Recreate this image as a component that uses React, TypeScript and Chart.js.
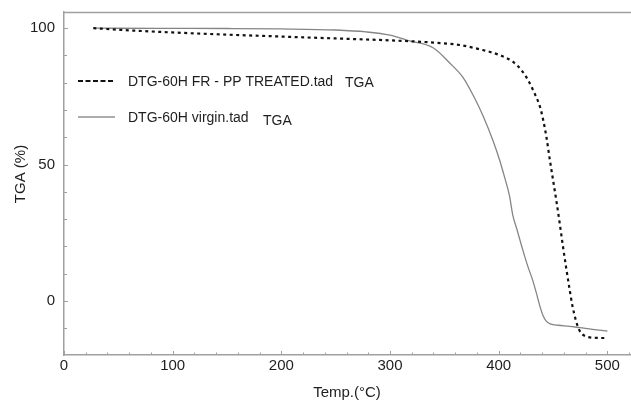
import React, { useEffect, useRef } from "react";
import { Chart, registerables } from "chart.js";

Chart.register(...registerables);

// FR-PP treated (dotted)
const treatedTemp = [27, 50, 100, 150, 200, 250, 300, 340, 364, 383, 401, 413, 421, 427, 433, 438, 441, 444, 447, 450, 453, 456, 459, 462, 465, 468, 471, 474, 477, 482, 490, 500];
const treatedTGA = [100, 99.4, 98.4, 97.6, 96.9, 96.2, 95.5, 94.7, 93.8, 92.2, 90.1, 87.7, 84.6, 81, 76.1, 71.2, 66.3, 60, 52, 44.5, 37, 29, 20.5, 12.5, 5, -2, -7, -10.5, -12.2, -13.2, -13.5, -13.6];

// virgin (solid)
const virginTemp = [27, 50, 100, 150, 200, 250, 278, 300, 318, 340, 355, 367, 377, 386, 395, 401, 405, 410, 413, 417, 422, 427, 431, 435, 438, 441, 444, 448, 455, 465, 475, 485, 495, 500];
const virginTGA = [100, 99.95, 99.9, 99.85, 99.7, 99.3, 98.6, 97.4, 95.3, 92.7, 87.2, 82, 75, 67.5, 58.5, 51.5, 46, 38.5, 31.5, 26, 19, 12.5, 8, 2.5, -2, -5.5, -7.5, -8.5, -8.9, -9.3, -9.8, -10.3, -10.8, -11];

const xTicks = [0, 100, 200, 300, 400, 500];
const xMinorTicks = [20, 40, 60, 80, 120, 140, 160, 180, 220, 240, 260, 280, 320, 340, 360, 380, 420, 440, 460, 480, 520];
const yTicks = [0, 50, 100];
const yMinorTicks = [-10, 10, 20, 30, 40, 60, 70, 80, 90];

const legendLabels = ["DTG-60H FR - PP TREATED.tad", "DTG-60H virgin.tad"];
const legendSuffix = "TGA";
const xTitle = "Temp.(°C)";
const yTitle = "TGA (%)";

const FONT = "'Liberation Sans', Arial, Helvetica, sans-serif";
const AXIS_COLOR = "#a0a0a0";
const TEXT_COLOR = "#1e1e1e";

const decorPlugin = {
  id: "decor",
  afterDraw(chart: any) {
    const { ctx, chartArea } = chart;
    const xs = chart.scales.x;
    const ys = chart.scales.y;
    ctx.save();
    // top frame line
    ctx.strokeStyle = AXIS_COLOR;
    ctx.lineWidth = 1.5;
    ctx.beginPath();
    ctx.moveTo(chartArea.left, chartArea.top + 0.5);
    ctx.lineTo(chartArea.right, chartArea.top + 0.5);
    ctx.stroke();
    // inner ticks
    ctx.lineWidth = 1;
    ctx.beginPath();
    xTicks.forEach((v) => {
      const px = Math.round(xs.getPixelForValue(v)) + 0.5;
      ctx.moveTo(px, chartArea.bottom);
      ctx.lineTo(px, chartArea.bottom - 4);
    });
    xMinorTicks.forEach((v) => {
      const px = Math.round(xs.getPixelForValue(v)) + 0.5;
      ctx.moveTo(px, chartArea.bottom);
      ctx.lineTo(px, chartArea.bottom - 2.5);
    });
    yTicks.forEach((v) => {
      const py = Math.round(ys.getPixelForValue(v)) + 0.5;
      ctx.moveTo(chartArea.left, py);
      ctx.lineTo(chartArea.left + 4, py);
    });
    yMinorTicks.forEach((v) => {
      const py = Math.round(ys.getPixelForValue(v)) + 0.5;
      ctx.moveTo(chartArea.left, py);
      ctx.lineTo(chartArea.left + 3, py);
    });
    ctx.stroke();

    // legend
    const lx = chartArea.left + 14;
    ctx.strokeStyle = "#111111";
    ctx.lineWidth = 2;
    ctx.setLineDash([5, 2.5]);
    ctx.beginPath();
    ctx.moveTo(lx, 81);
    ctx.lineTo(lx + 36, 81);
    ctx.stroke();
    ctx.setLineDash([]);
    ctx.strokeStyle = "#909090";
    ctx.lineWidth = 1.5;
    ctx.beginPath();
    ctx.moveTo(lx, 117);
    ctx.lineTo(lx + 37, 117);
    ctx.stroke();

    ctx.fillStyle = TEXT_COLOR;
    ctx.font = `14px ${FONT}`;
    ctx.textAlign = "left";
    ctx.textBaseline = "alphabetic";
    ctx.fillText(legendLabels[0], 128, 86);
    ctx.fillText(legendSuffix, 345, 87);
    ctx.fillText(legendLabels[1], 128, 122);
    ctx.fillText(legendSuffix, 263, 125);

    // axis titles
    ctx.font = `15px ${FONT}`;
    ctx.textAlign = "center";
    ctx.fillText(xTitle, 347, 397);
    ctx.save();
    ctx.translate(25, 174);
    ctx.rotate(-Math.PI / 2);
    ctx.textBaseline = "alphabetic";
    ctx.fillText(yTitle, 0, 0);
    ctx.restore();
    ctx.restore();
  },
};

export default function App() {
  const canvasRef = useRef<HTMLCanvasElement | null>(null);

  useEffect(() => {
    document.body.style.margin = "0";
    const canvas = canvasRef.current;
    if (!canvas) return;
    const chart = new Chart(canvas, {
      type: "line",
      data: {
        datasets: [
          {
            label: legendLabels[0],
            data: treatedTemp.map((x, i) => ({ x, y: treatedTGA[i] })),
            borderColor: "#111111",
            borderWidth: 2.2,
            borderDash: [3, 3.5],
            pointRadius: 0,
            cubicInterpolationMode: "monotone",
            fill: false,
          },
          {
            label: legendLabels[1],
            data: virginTemp.map((x, i) => ({ x, y: virginTGA[i] })),
            borderColor: "#858585",
            borderWidth: 1.3,
            pointRadius: 0,
            cubicInterpolationMode: "monotone",
            fill: false,
          },
        ],
      },
      options: {
        animation: false,
        responsive: false,
        maintainAspectRatio: false,
        devicePixelRatio: 1,
        layout: { padding: { top: 12, right: 0, left: 0, bottom: 0 } },
        plugins: { legend: { display: false }, tooltip: { enabled: false } },
        scales: {
          x: {
            type: "linear",
            min: 0,
            max: 521.8,
            afterBuildTicks: (s: any) => {
              s.ticks = xTicks.map((v) => ({ value: v }));
            },
            afterFit: (s: any) => {
              s.height = 47;
              s.paddingLeft = 0;
              s.paddingRight = 0;
              s.paddingTop = 0;
              s.paddingBottom = 0;
            },
            grid: { display: false, drawTicks: false },
            border: { display: true, color: AXIS_COLOR, width: 1.5 },
            ticks: {
              color: TEXT_COLOR,
              font: { family: FONT, size: 15 },
              padding: 2,
              maxRotation: 0,
              autoSkip: false,
            },
          },
          y: {
            type: "linear",
            min: -19.8,
            max: 105.9,
            afterBuildTicks: (s: any) => {
              s.ticks = yTicks.map((v) => ({ value: v }));
            },
            afterFit: (s: any) => {
              s.width = 64;
              s.paddingLeft = 0;
              s.paddingRight = 0;
              s.paddingTop = 0;
              s.paddingBottom = 0;
            },
            grid: { display: false, drawTicks: false },
            border: { display: true, color: AXIS_COLOR, width: 1.5 },
            ticks: {
              color: TEXT_COLOR,
              font: { family: FONT, size: 15 },
              padding: 9,
              autoSkip: false,
            },
          },
        },
      },
      plugins: [decorPlugin],
    });
    return () => chart.destroy();
  }, []);

  return (
    <div style={{ width: 631, height: 402, background: "#fff" }}>
      <canvas ref={canvasRef} width={631} height={402} style={{ display: "block" }} />
    </div>
  );
}
